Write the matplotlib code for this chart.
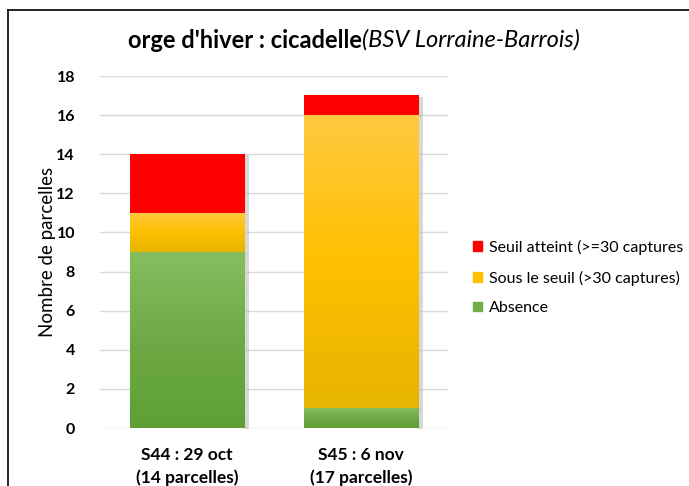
import numpy as np
import matplotlib.pyplot as plt
from matplotlib.colors import LinearSegmentedColormap
from matplotlib.lines import Line2D
from matplotlib.patches import Patch

# orge d'hiver : cicadelle, BSV Lorraine-Barrois
categories = ['S44 : 29 oct\n(14 parcelles)', 'S45 : 6 nov\n(17 parcelles)']
absence = [9, 1]
sous_seuil = [2, 15]
seuil_atteint = [3, 1]

plt.rcParams['font.family'] = ['Lato', 'DejaVu Sans']

fig = plt.figure(figsize=(6.89, 4.86), dpi=100)
ax = fig.add_axes([100 / 689, 58 / 486, 348 / 689, 352 / 486])

x = np.arange(len(categories))
w = 0.66

# colours: top -> bottom of each segment
grads = {
    'green': ['#86bd60', '#6eaa45', '#5f9e35'],
    'yellow': ['#ffc941', '#ffc000', '#e6b400'],
    'red': ['#ff0000', '#ff0000', '#ff0000'],
}

def grad_bars(bottom, height, key):
    bars = ax.bar(x, height, w, bottom=bottom, color='none', edgecolor='none', zorder=3)
    cmap = LinearSegmentedColormap.from_list(key, grads[key][::-1])
    img = np.linspace(0, 1, 256).reshape(-1, 1)
    for b in bars:
        if b.get_height() <= 0:
            continue
        x0, y0 = b.get_x(), b.get_y()
        x1, y1 = x0 + b.get_width(), y0 + b.get_height()
        # soft shadow on the right side
        ax.fill_between([x1, x1 + 0.025], y0 - 0.1, y1 - 0.05, color='#bfbfbf', alpha=0.6, lw=0, zorder=2)
        ax.imshow(img, cmap=cmap, extent=[x0, x1, y0, y1], origin='lower',
                  aspect='auto', zorder=3, interpolation='bilinear')
    return bars

bottom2 = [a + s for a, s in zip(absence, sous_seuil)]
grad_bars([0, 0], absence, 'green')
grad_bars(absence, sous_seuil, 'yellow')
grad_bars(bottom2, seuil_atteint, 'red')

ax.set_xlim(-0.5, 1.5)
ax.set_ylim(0, 18)
ax.set_yticks(np.arange(0, 19, 2))
ax.set_xticks(x)
ax.set_xticklabels(categories, fontsize=12.5, fontweight='bold', linespacing=1.45)
for t in ax.get_yticklabels():
    t.set_fontsize(11.5)
    t.set_fontweight('bold')
ax.tick_params(length=0)
ax.tick_params(axis='y', pad=18)
ax.tick_params(axis='x', pad=14)
ax.grid(axis='y', color='#d9d9d9', lw=1, zorder=0)
ax.set_axisbelow(True)
for s in ax.spines.values():
    s.set_visible(False)
ax.set_ylabel('Nombre de parcelles', fontsize=13.5)
ax.yaxis.set_label_coords(-0.125, 0.5)

fig.text(362 / 689, 1 - 40 / 486, "orge d'hiver : cicadelle", ha='right', va='center',
         fontsize=17, fontweight='bold')
fig.text(362 / 689, 1 - 40 / 486, "(BSV Lorraine-Barrois)", ha='left', va='center',
         fontsize=17, style='italic')

handles = [Patch(color='#ff0000'), Patch(color='#ffc000'), Patch(color='#70ad47')]
labels = ['Seuil atteint (>=30 captures', 'Sous le seuil (>30 captures)', 'Absence']
fig.legend(handles, labels, loc='upper left', bbox_to_anchor=(468 / 689, 1 - 235 / 486),
           frameon=False, fontsize=11.5, handlelength=0.55, handleheight=0.55,
           handletextpad=0.45, labelspacing=0.98, borderaxespad=0, borderpad=0.3)

# chart border (top and left edge visible)
fig.add_artist(Line2D([8 / 689, 8 / 689], [0, 1 - 10 / 486], color='black', lw=1.2))
fig.add_artist(Line2D([8 / 689, 1], [1 - 10 / 486, 1 - 10 / 486], color='black', lw=1.2))

fig.savefig('out.png', dpi=100)
